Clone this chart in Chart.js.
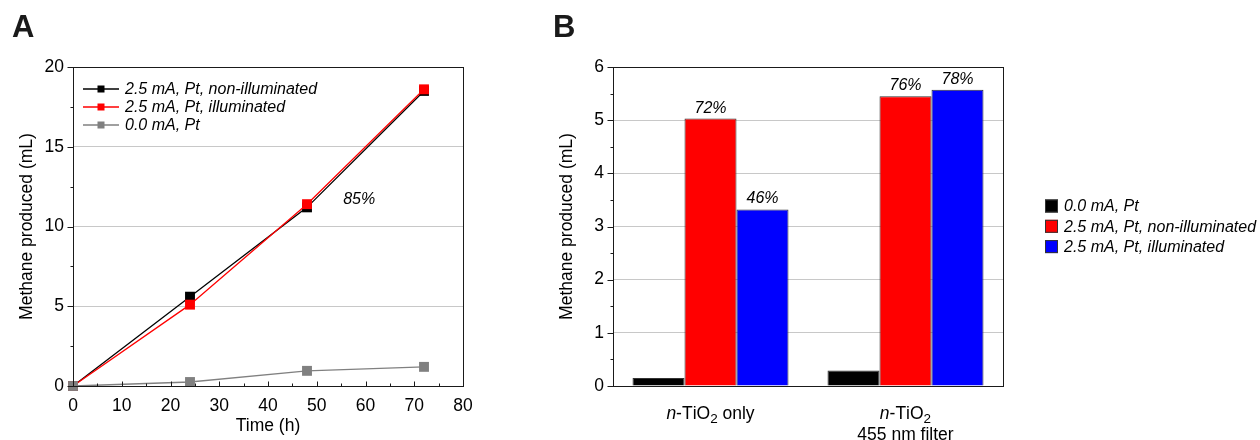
<!DOCTYPE html>
<html>
<head>
<meta charset="utf-8">
<script src="https://cdn.jsdelivr.net/npm/chart.js@4/dist/chart.umd.min.js"></script>
<style>
  body { margin: 0; background: #fff; width: 1260px; height: 440px; position: relative; overflow: hidden; }
  .panel { position: absolute; top: 0; height: 440px; }
  #wrapA { left: 0; width: 520px; }
  #wrapB { left: 540px; width: 720px; }
</style>
</head>
<body>
<div class="panel" id="wrapA"><canvas id="chartA" width="520" height="440"></canvas></div>
<div class="panel" id="wrapB"><canvas id="chartB" width="720" height="440"></canvas></div>
<script>
// panel A: methane vs time
const timeHours = [0, 24, 48, 72];
const nonIllumA = [0, 5.6, 11.2, 18.5];
const illumA = [0, 5.1, 11.4, 18.6];
const zeroCurrentA = [0, 0.25, 0.95, 1.2];
const effLabelA = "85%";
const effPosA = { x: 58.7, y: 11.7 };

// panel B: methane per condition
const groupsB = ["n-TiO2 only", "n-TiO2\n455 nm filter"];
const zeroCurrentB = [0.15, 0.29];
const nonIllumB = [5.03, 5.45];
const illumB = [3.32, 5.57];
const effNonIllumB = ["72%", "76%"];
const effIllumB = ["46%", "78%"];

const FAMILY = "'Liberation Sans', Arial, sans-serif";
const axisFont = { family: FAMILY, size: 17.5 };
const italic16 = "italic 16px " + FAMILY;

Chart.defaults.font.family = FAMILY;
Chart.defaults.color = "#000";

// rich text for the category labels: italic "n", subscript digit after a letter
function drawRich(ctx, str, cx, baseline) {
  const parts = [];
  for (let i = 0; i < str.length; i++) {
    const ch = str[i];
    let kind = "n";
    if (i === 0 && ch === "n" && str[1] === "-") kind = "i";
    else if (/\d/.test(ch) && i > 0 && /[A-Za-z]/.test(str[i - 1])) kind = "s";
    parts.push({ ch, kind });
  }
  const fontOf = (k) => k === "i" ? "italic 17.5px " + FAMILY : k === "s" ? "13.5px " + FAMILY : "17.5px " + FAMILY;
  let w = 0;
  parts.forEach((p) => { ctx.font = fontOf(p.kind); p.w = ctx.measureText(p.ch).width; w += p.w; });
  let x = cx - w / 2;
  ctx.textAlign = "left";
  ctx.textBaseline = "alphabetic";
  parts.forEach((p) => {
    ctx.font = fontOf(p.kind);
    ctx.fillText(p.ch, x, p.kind === "s" ? baseline + 4 : baseline);
    x += p.w;
  });
}

const panelDecor = {
  id: "panelDecor",
  afterDatasetsDraw(chart, args, o) {
    const { ctx, chartArea: a, scales } = chart;
    const L = Math.round(a.left) + 0.5, R = Math.round(a.right) + 0.5;
    const T = Math.round(a.top) + 0.5, B = Math.round(a.bottom) + 0.5;
    ctx.save();
    ctx.strokeStyle = "#1a1a1a";
    ctx.lineWidth = 1;
    ctx.strokeRect(L, T, R - L, B - T);

    // y ticks, outward
    const ys = scales.y;
    ctx.beginPath();
    for (let v = ys.min; v <= ys.max + 1e-9; v += o.yMinor) {
      const major = Math.abs(v / o.yMajor - Math.round(v / o.yMajor)) < 1e-6;
      const y = Math.round(ys.getPixelForValue(v)) + 0.5;
      ctx.moveTo(L - (major ? 6 : 3), y);
      ctx.lineTo(L, y);
    }
    // x ticks, inward
    if (o.xMinor) {
      const xs = scales.x;
      for (let v = xs.min; v <= xs.max + 1e-9; v += o.xMinor) {
        const major = Math.abs(v / o.xMajor - Math.round(v / o.xMajor)) < 1e-6;
        const x = Math.round(xs.getPixelForValue(v)) + 0.5;
        ctx.moveTo(x, B);
        ctx.lineTo(x, B - (major ? 5 : 3));
      }
    }
    ctx.stroke();

    // panel letter
    ctx.fillStyle = "#1a1a1a";
    ctx.font = "bold 31px " + FAMILY;
    ctx.textAlign = "left";
    ctx.textBaseline = "alphabetic";
    ctx.fillText(o.letter, o.letterX, 37);

    ctx.fillStyle = "#000";
    if (o.kind === "line") {
      // legend inside the plot
      chart.data.datasets.forEach((ds, i) => {
        const y = o.legend.y + i * o.legend.gap;
        ctx.strokeStyle = ds.borderColor;
        ctx.lineWidth = 1.3;
        ctx.beginPath();
        ctx.moveTo(o.legend.x, y);
        ctx.lineTo(o.legend.x + 36, y);
        ctx.stroke();
        ctx.fillStyle = ds.pointBackgroundColor;
        ctx.fillRect(o.legend.x + 18 - 3.5, y - 3.5, 7, 7);
        ctx.fillStyle = "#000";
        ctx.font = italic16;
        ctx.textBaseline = "middle";
        ctx.fillText(ds.label, o.legend.x + 42, y + 1);
      });
      ctx.font = italic16;
      ctx.textAlign = "center";
      ctx.textBaseline = "middle";
      ctx.fillText(effLabelA, scales.x.getPixelForValue(effPosA.x), scales.y.getPixelForValue(effPosA.y));
    } else {
      // bar value labels
      const effs = [null, effNonIllumB, effIllumB];
      ctx.font = italic16;
      ctx.textAlign = "center";
      ctx.textBaseline = "alphabetic";
      effs.forEach((arr, di) => {
        if (!arr) return;
        chart.getDatasetMeta(di).data.forEach((bar, j) => {
          ctx.fillText(arr[j], bar.x, bar.y - 6);
        });
      });
      // category labels
      ctx.fillStyle = "#000";
      chart.data.labels.forEach((lab, i) => {
        const cx = scales.x.getPixelForValue(i);
        lab.split("\n").forEach((line, k) => drawRich(ctx, line, cx, 419 + k * 21));
      });
      // legend outside right
      chart.data.datasets.forEach((ds, i) => {
        const y = o.legend.y + i * o.legend.gap;
        ctx.fillStyle = ds.backgroundColor;
        ctx.fillRect(o.legend.x, y - 6.5, 13, 13);
        ctx.strokeStyle = "#333";
        ctx.lineWidth = 1;
        ctx.strokeRect(o.legend.x + 0.5, y - 6, 12, 12);
        ctx.fillStyle = "#000";
        ctx.font = italic16;
        ctx.textAlign = "left";
        ctx.textBaseline = "middle";
        ctx.fillText(ds.label, o.legend.x + 19, y + 1);
      });
    }
    ctx.restore();
  }
};

const gridColor = (top) => (c) => (c.tick && (c.tick.value === 0 || c.tick.value === top)) ? "rgba(0,0,0,0)" : "#c8c8c8";

function yAxis(max, step) {
  return {
    min: 0, max: max,
    afterFit: (s) => { s.width = 73; },
    border: { display: false },
    grid: { color: gridColor(max), drawTicks: false, lineWidth: 1 },
    ticks: { stepSize: step, font: axisFont, color: "#000", padding: 9 },
    title: { display: true, text: "Methane produced (mL)", font: axisFont, color: "#000", padding: { top: 17 } }
  };
}

const lineDs = (label, data, color, order) => ({
  label, data: data.map((v, i) => ({ x: timeHours[i], y: v })),
  borderColor: color, backgroundColor: color,
  pointBackgroundColor: color, pointBorderColor: color,
  pointStyle: "rect", pointRadius: 7, pointBorderWidth: 0,
  borderWidth: 1.3, tension: 0, clip: false, order
});

new Chart(document.getElementById("chartA"), {
  type: "line",
  data: {
    datasets: [
      lineDs("2.5 mA, Pt, non-illuminated", nonIllumA, "#000000", 2),
      lineDs("2.5 mA, Pt, illuminated", illumA, "#ff0000", 1),
      lineDs("0.0 mA, Pt", zeroCurrentA, "#808080", 0)
    ]
  },
  options: {
    responsive: false,
    animation: false,
    layout: { padding: { top: 67, right: 57, bottom: 0, left: 0 } },
    plugins: {
      legend: { display: false },
      tooltip: { enabled: false },
      panelDecor: { kind: "line", letter: "A", letterX: 12, yMajor: 5, yMinor: 2.5, xMajor: 10, xMinor: 5, legend: { x: 83, y: 89, gap: 18 } }
    },
    scales: {
      x: {
        type: "linear", min: 0, max: 80,
        afterFit: (s) => { s.height = 54; },
        border: { display: false },
        grid: { display: false },
        ticks: { stepSize: 10, font: axisFont, color: "#000", padding: 2, maxRotation: 0 },
        title: { display: true, text: "Time (h)", font: axisFont, color: "#000", padding: { bottom: 3 } }
      },
      y: yAxis(20, 5)
    }
  },
  plugins: [panelDecor]
});

const barDs = (label, data, color) => ({
  label, data, backgroundColor: color, borderColor: "#333", borderWidth: 1,
  categoryPercentage: 0.8, barPercentage: 1.0
});

new Chart(document.getElementById("chartB"), {
  type: "bar",
  data: {
    labels: groupsB,
    datasets: [
      barDs("0.0 mA, Pt", zeroCurrentB, "#000000"),
      barDs("2.5 mA, Pt, non-illuminated", nonIllumB, "#ff0000"),
      barDs("2.5 mA, Pt, illuminated", illumB, "#0000ff")
    ]
  },
  options: {
    responsive: false,
    animation: false,
    layout: { padding: { top: 67, right: 257, bottom: 0, left: 0 } },
    plugins: {
      legend: { display: false },
      tooltip: { enabled: false },
      panelDecor: { kind: "bar", letter: "B", letterX: 13, yMajor: 1, yMinor: 0.5, legend: { x: 505, y: 206, gap: 20.3 } }
    },
    scales: {
      x: {
        type: "category", offset: true,
        afterFit: (s) => { s.height = 54; },
        border: { display: false },
        grid: { display: false },
        ticks: { display: false }
      },
      y: yAxis(6, 1)
    }
  },
  plugins: [panelDecor]
});
</script>
</body>
</html>
